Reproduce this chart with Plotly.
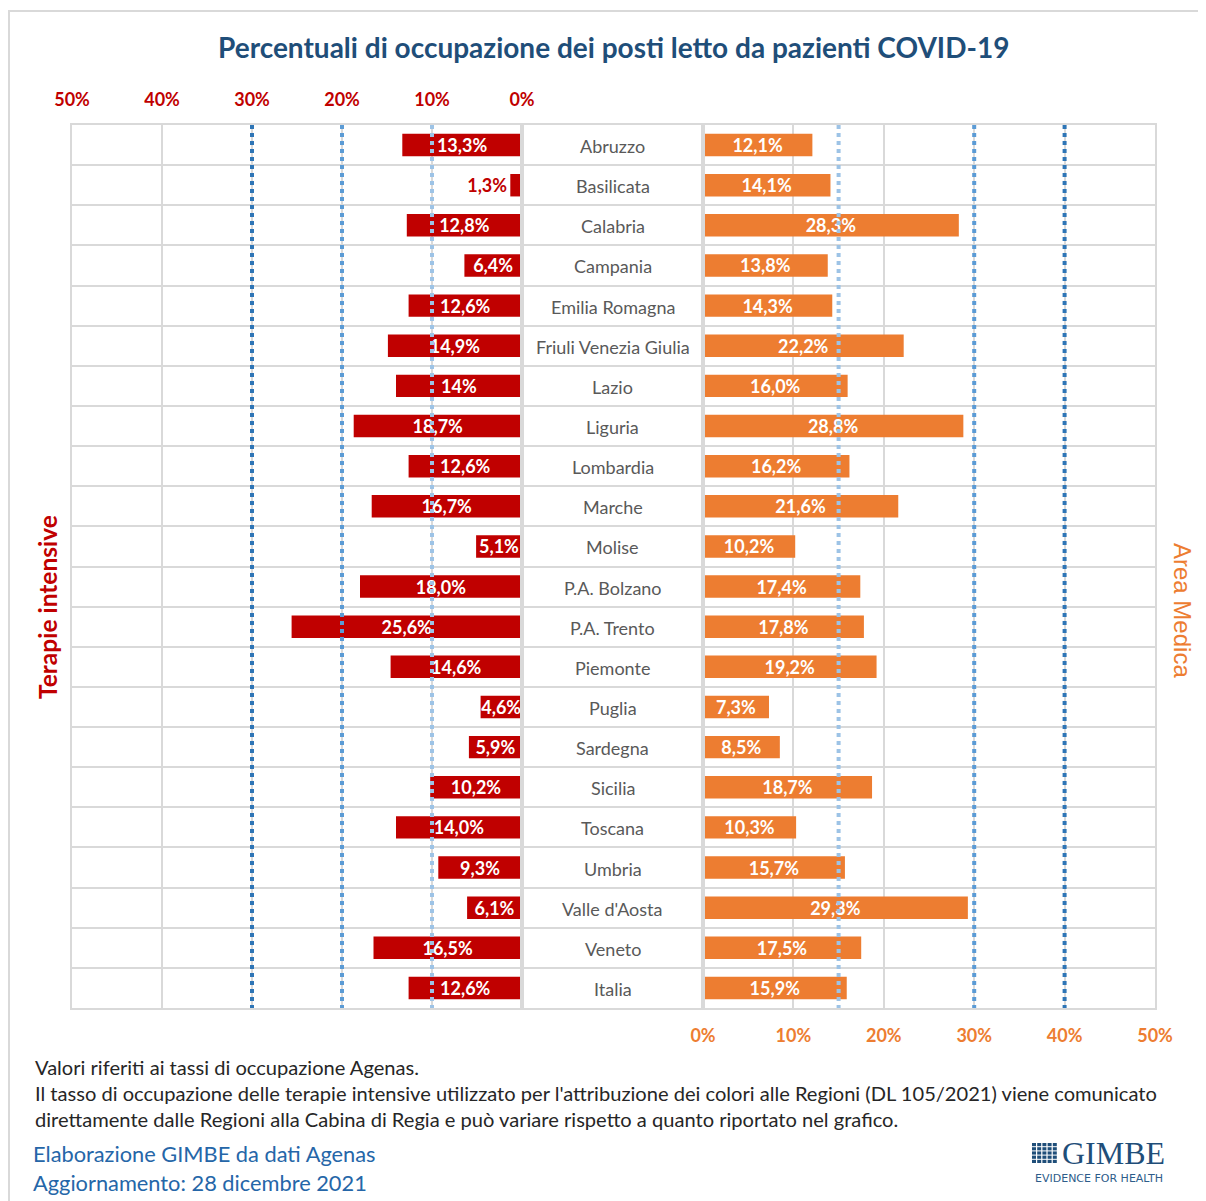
import plotly.graph_objects as go

# ---------------- data ----------------
regions = ["Abruzzo", "Basilicata", "Calabria", "Campania", "Emilia Romagna",
           "Friuli Venezia Giulia", "Lazio", "Liguria", "Lombardia", "Marche",
           "Molise", "P.A. Bolzano", "P.A. Trento", "Piemonte", "Puglia",
           "Sardegna", "Sicilia", "Toscana", "Umbria", "Valle d'Aosta",
           "Veneto", "Italia"]

ti_values = [13.3, 1.3, 12.8, 6.4, 12.6, 14.9, 14.0, 18.7, 12.6, 16.7, 5.1,
             18.0, 25.6, 14.6, 4.6, 5.9, 10.2, 14.0, 9.3, 6.1, 16.5, 12.6]
ti_labels = ["13,3%", "1,3%", "12,8%", "6,4%", "12,6%", "14,9%", "14%", "18,7%",
             "12,6%", "16,7%", "5,1%", "18,0%", "25,6%", "14,6%", "4,6%", "5,9%",
             "10,2%", "14,0%", "9,3%", "6,1%", "16,5%", "12,6%"]

am_values = [12.1, 14.1, 28.3, 13.8, 14.3, 22.2, 16.0, 28.8, 16.2, 21.6, 10.2,
             17.4, 17.8, 19.2, 7.3, 8.5, 18.7, 10.3, 15.7, 29.3, 17.5, 15.9]
am_labels = ["12,1%", "14,1%", "28,3%", "13,8%", "14,3%", "22,2%", "16,0%", "28,8%",
             "16,2%", "21,6%", "10,2%", "17,4%", "17,8%", "19,2%", "7,3%", "8,5%",
             "18,7%", "10,3%", "15,7%", "29,3%", "17,5%", "15,9%"]

ti_thresholds = [10, 20, 30]
am_thresholds = [15, 30, 40]
threshold_colors = ["#9DC3E6", "#5B9BD5", "#2E75B6"]

tick_vals = [0, 10, 20, 30, 40, 50]
tick_text = ["0%", "10%", "20%", "30%", "40%", "50%"]

title_text = "Percentuali di occupazione dei posti letto da pazienti COVID-19"
notes = ["Valori riferiti ai tassi di occupazione Agenas.",
         "Il tasso di occupazione delle terapie intensive utilizzato per l'attribuzione dei colori alle Regioni (DL 105/2021) viene comunicato",
         "direttamente dalle Regioni alla Cabina di Regia e può variare rispetto a quanto riportato nel grafico."]
source_lines = ["Elaborazione GIMBE da dati Agenas", "Aggiornamento: 28 dicembre 2021"]

# ---------------- geometry helpers ----------------
# the page body adds an 8px margin; positions below are page pixels
OFF = 8
W, H = 1206 - OFF, 1201 - OFF
def X(px):
    return (px - OFF) / W
def Y(py):
    return 1 - (py - OFF) / H

RED = "#C00000"
ORANGE = "#ED7D31"
GRID = "#D9D9D9"
FONT = "Lato"

idx = list(range(len(regions)))
n = len(regions)

fig = go.Figure()

# left bars (terapie intensive)
ti_pos = ["outside" if v < 3 else "inside" for v in ti_values]
ti_tcol = [RED if p == "outside" else "white" for p in ti_pos]
fig.add_trace(go.Bar(
    x=ti_values, y=idx, orientation="h", xaxis="x", yaxis="y",
    marker=dict(color=RED, line=dict(width=0)), width=0.56,
    text=ti_labels, textposition=ti_pos, insidetextanchor="middle",
    textfont=dict(color=ti_tcol, size=18, family=FONT, weight="bold"),
    constraintext="none", cliponaxis=False, showlegend=False, hoverinfo="skip"))

# right bars (area medica)
fig.add_trace(go.Bar(
    x=am_values, y=idx, orientation="h", xaxis="x2", yaxis="y",
    marker=dict(color=ORANGE, line=dict(width=0)), width=0.56,
    text=am_labels, textposition="inside", insidetextanchor="middle",
    textfont=dict(color="white", size=18, family=FONT, weight="bold"),
    constraintext="none", cliponaxis=False, showlegend=False, hoverinfo="skip"))

# threshold dotted lines
for t, c in zip(ti_thresholds, threshold_colors):
    fig.add_trace(go.Scatter(x=[t, t], y=[-0.5, n - 0.5], mode="lines",
                             xaxis="x", yaxis="y",
                             line=dict(color=c, width=4, dash="4px,4px"),
                             showlegend=False, hoverinfo="skip"))
for t, c in zip(am_thresholds, threshold_colors):
    fig.add_trace(go.Scatter(x=[t, t], y=[-0.5, n - 0.5], mode="lines",
                             xaxis="x2", yaxis="y",
                             line=dict(color=c, width=4, dash="4px,4px"),
                             showlegend=False, hoverinfo="skip"))

annotations = []
# region names in the middle column (placed through the x3/y axes)
for i, name in zip(idx, regions):
    annotations.append(dict(text=name, x=0.5, y=i, xref="x3", yref="y",
                            xanchor="center", yanchor="middle", yshift=-1,
                            showarrow=False,
                            font=dict(color="#595959", size=18, family=FONT)))

annotations += [
    dict(text=title_text, x=X(613), y=Y(47), xref="paper", yref="paper",
         xanchor="center", yanchor="middle", showarrow=False,
         font=dict(size=28, color="#1F4E79", family=FONT, weight="bold")),
    dict(text="Terapie intensive", x=X(47), y=Y(607), xref="paper", yref="paper",
         xanchor="center", yanchor="middle", showarrow=False, textangle=-90,
         font=dict(size=24.5, color=RED, family=FONT, weight="bold")),
    dict(text="Area Medica", x=X(1183), y=Y(610), xref="paper", yref="paper",
         xanchor="center", yanchor="middle", showarrow=False, textangle=90,
         font=dict(size=24, color=ORANGE, family="Liberation Sans")),
]
for line, py in zip(notes, [1067, 1093, 1119]):
    annotations.append(dict(text=line, x=X(33), y=Y(py), xref="paper", yref="paper",
                            xanchor="left", yanchor="middle", showarrow=False,
                            font=dict(size=20.1, color="#262626", family=FONT)))
for line, py in zip(source_lines, [1153, 1182]):
    annotations.append(dict(text=line, x=X(31), y=Y(py), xref="paper", yref="paper",
                            xanchor="left", yanchor="middle", showarrow=False,
                            font=dict(size=21.8, color="#2566A8", family=FONT)))
# logo text
annotations.append(dict(text="GIMBE", x=X(1060), y=Y(1153), xref="paper", yref="paper",
                        xanchor="left", yanchor="middle", showarrow=False,
                        font=dict(size=32, color="#1F4E79", family="Liberation Serif")))
annotations.append(dict(text="EVIDENCE FOR HEALTH", x=X(1099), y=Y(1178), xref="paper", yref="paper",
                        xanchor="center", yanchor="middle", showarrow=False,
                        font=dict(size=11, color="#2E5C8A", family="DejaVu Sans")))

shapes = [dict(type="rect", xref="paper", yref="paper", x0=X(9), x1=X(1230),
               y0=Y(11), y1=Y(1230), line=dict(color=GRID, width=2),
               fillcolor="rgba(0,0,0,0)", layer="below")]
# logo grid icon
for r in range(5):
    for c in range(5):
        x0 = 1032 + c * 5.2
        y0 = 1143 + r * 4.2
        shapes.append(dict(type="rect", xref="paper", yref="paper",
                           x0=X(x0), x1=X(x0 + 4), y0=Y(y0), y1=Y(y0 + 3.2),
                           line=dict(width=0), fillcolor="#1F4E79"))

common_x = dict(showgrid=True, gridcolor=GRID, gridwidth=2, zeroline=False, ticks="",
                automargin=False, showline=True, linecolor=GRID, linewidth=2, mirror=True,
                tickvals=tick_vals, ticktext=tick_text, ticklabelstandoff=10)

fig.update_layout(
    width=W, height=H, margin=dict(l=0, r=0, t=0, b=0, pad=0, autoexpand=False),
    paper_bgcolor="white", plot_bgcolor="white",
    barmode="overlay",
    xaxis=dict(domain=[X(72), X(522)], range=[50, 0], anchor="y", side="top",
               tickfont=dict(color=RED, size=18, family=FONT, weight="bold"), **common_x),
    xaxis2=dict(domain=[X(703), X(1155)], range=[0, 50], anchor="y", side="bottom",
                tickfont=dict(color=ORANGE, size=18, family=FONT, weight="bold"), **common_x),
    xaxis3=dict(domain=[X(522), X(703)], range=[0, 1], anchor="y", visible=True,
                showticklabels=False, showgrid=False, zeroline=False, ticks="",
                automargin=False, showline=True, linecolor=GRID, linewidth=2, mirror=True),
    yaxis=dict(domain=[Y(1008), Y(125)], range=[n - 0.5, -0.5], anchor="x",
               tickvals=[i - 0.5 for i in range(n + 1)], showticklabels=False,
               showgrid=True, gridcolor=GRID, gridwidth=2, zeroline=False, ticks="",
               automargin=False, showline=True, linecolor=GRID, linewidth=2, mirror="all"),
    annotations=annotations, shapes=shapes,
)

fig.write_html("out.html")
